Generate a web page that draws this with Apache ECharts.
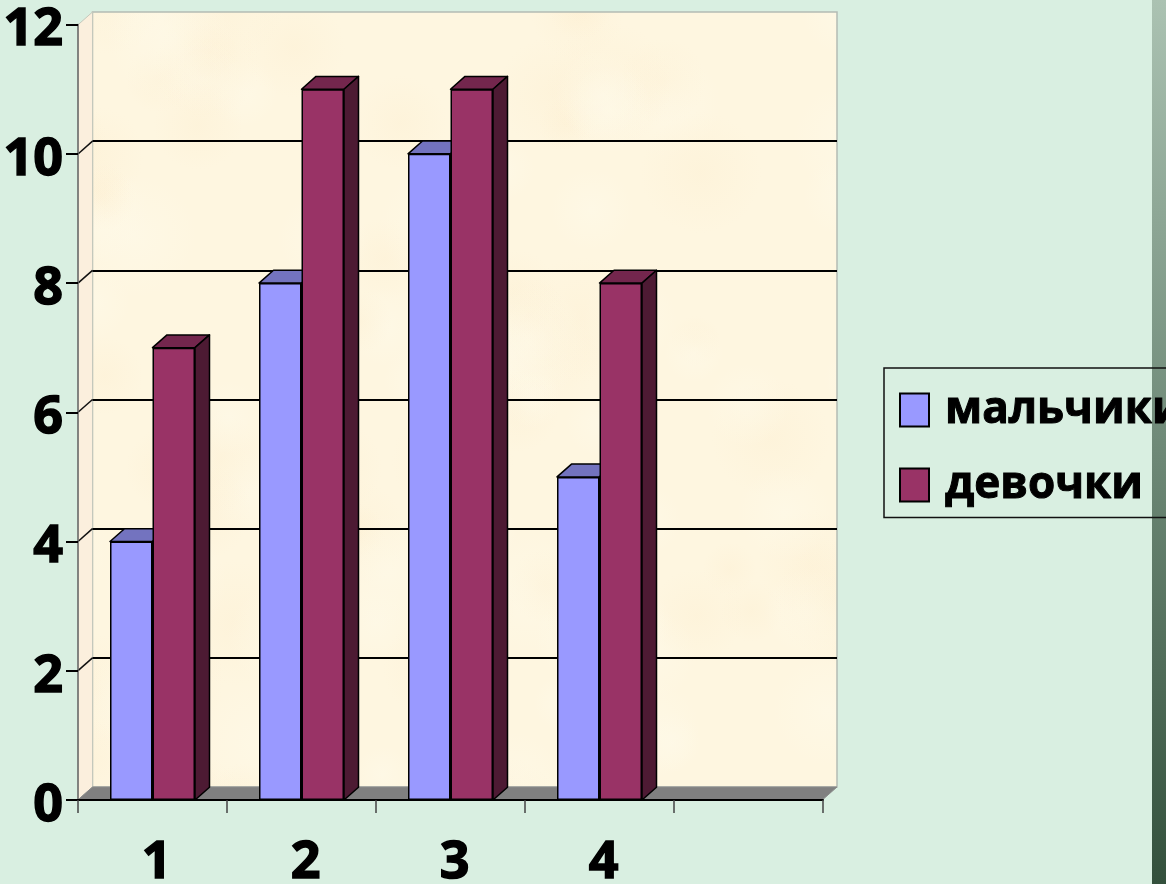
<!DOCTYPE html>
<html>
<head>
<meta charset="utf-8">
<style>html,body{margin:0;padding:0;background:#d9efe1;overflow:hidden}#c{width:1166px;height:884px}</style>
<script src="https://cdn.jsdelivr.net/npm/echarts@6/dist/echarts.min.js"></script>
</head>
<body>
<div id="c"></div>
<script>
var categories = ['1', '2', '3', '4', ''];
var boys = [4, 8, 10, 5];
var girls = [7, 11, 11, 8];
var boysName = 'мальчики';
var girlsName = 'девочки';
var yTicks = [2, 4, 6, 8, 10];

var DX = 14.5, DY = 12.8, BAR_W = 42.5;
var FONT = '"Open Sans","Noto Sans",sans-serif';

function parchment() {
  var cv = document.createElement('canvas');
  cv.width = 1166; cv.height = 884;
  var g = cv.getContext('2d');
  g.fillStyle = '#fef6e0';
  g.fillRect(0, 0, cv.width, cv.height);
  for (var i = 0; i < 170; i++) {
    var x = (Math.sin(i * 12.9898) * 43758.5453 % 1 + 1) % 1 * cv.width;
    var y = (Math.sin(i * 78.233) * 12543.123 % 1 + 1) % 1 * cv.height;
    var r = 25 + (i * 7 % 40);
    var grd = g.createRadialGradient(x, y, 0, x, y, r);
    var warm = i % 2 === 0;
    grd.addColorStop(0, warm ? 'rgba(252,236,204,0.28)' : 'rgba(255,250,234,0.5)');
    grd.addColorStop(1, warm ? 'rgba(252,236,204,0)' : 'rgba(255,250,234,0)');
    g.fillStyle = grd;
    g.fillRect(x - r, y - r, r * 2, r * 2);
  }
  return cv;
}
var wallTexture = { image: parchment(), repeat: 'repeat' };

function wallsItem(params, api) {
  var c = params.coordSys;
  var L = c.x, T = c.y, R = c.x + c.width, B = c.y + c.height;
  var kids = [
    { type: 'rect', shape: { x: L, y: T, width: c.width, height: c.height },
      style: { fill: wallTexture, stroke: '#b4bcb4', lineWidth: 1.5 } },
    { type: 'polygon', shape: { points: [[L - DX, T + DY], [L, T], [L, B], [L - DX, B + DY]] },
      style: { fill: '#fbefdd', stroke: '#c4c8bc', lineWidth: 1 } },
    { type: 'polygon', shape: { points: [[L - DX, B + DY], [L, B], [R, B], [R - DX, B + DY]] },
      style: { fill: '#808080', stroke: '#8a8a8a', lineWidth: 1 } }
  ];
  yTicks.forEach(function (v) {
    var y = api.coord([0, v])[1];
    kids.push({ type: 'line', shape: { x1: L - DX, y1: y + DY, x2: L, y2: y },
      style: { stroke: '#111', lineWidth: 1.5 } });
  });
  return { type: 'group', children: kids };
}

function depthItem(side, topFill, sideFill) {
  return function (params, api) {
    var pt = api.coord([api.value(0), api.value(1)]);
    var base = api.coord([api.value(0), 0]);
    var x0 = pt[0] + (side < 0 ? -BAR_W : 0), x1 = x0 + BAR_W, y = pt[1];
    var line = { stroke: '#000', lineWidth: 1.5, lineJoin: 'round' };
    return { type: 'group', children: [
      { type: 'polygon', shape: { points: [[x0, y], [x0 + DX, y - DY], [x1 + DX, y - DY], [x1, y]] },
        style: Object.assign({ fill: topFill }, line) },
      { type: 'polygon', shape: { points: [[x1, y], [x1 + DX, y - DY], [x1 + DX, base[1] - DY], [x1, base[1]]] },
        style: Object.assign({ fill: sideFill }, line) }
    ] };
  };
}
function pairs(a) { return a.map(function (v, i) { return [i, v]; }); }

var chart = echarts.init(document.getElementById('c'), null, { renderer: 'canvas' });
chart.setOption({
  animation: false,
  backgroundColor: '#d9efe1',
  graphic: [{
    type: 'rect', z: -10, silent: true,
    shape: { x: 1152, y: 0, width: 14, height: 884 },
    style: { fill: { type: 'linear', x: 0, y: 0, x2: 0, y2: 1,
      colorStops: [{ offset: 0, color: '#abc2b2' }, { offset: 0.5, color: '#6f8a78' }, { offset: 1, color: '#33503c' }] } }
  }],
  grid: [
    { left: 78, top: 24.6, width: 745, height: 775.4, outerBoundsMode: 'none' },
    { left: 92.5, top: 12, width: 744.5, height: 775, outerBoundsMode: 'none' }
  ],
  xAxis: [
    { type: 'category', gridIndex: 0, data: categories,
      axisLine: { show: true, lineStyle: { color: '#000', width: 2 } },
      axisTick: { show: true, length: 13, lineStyle: { color: '#444', width: 1.5 } },
      axisLabel: { show: true, color: '#000', fontFamily: FONT, fontWeight: 'bold', fontSize: 52, margin: 37, padding: [0, 0, 0, 8], interval: 0, textBorderColor: '#000', textBorderWidth: 1.5 },
      z: 5 },
    { type: 'category', gridIndex: 1, data: categories, show: false }
  ],
  yAxis: [
    { type: 'value', gridIndex: 0, min: 0, max: 12, interval: 2,
      axisLine: { show: true, lineStyle: { color: '#666', width: 1.5 } },
      axisTick: { show: true, length: 12, lineStyle: { color: '#000', width: 2 } },
      axisLabel: { color: '#000', fontFamily: FONT, fontWeight: 'bold', fontSize: 52, margin: 15, verticalAlign: 'top', lineHeight: 12, showMinLabel: true, showMaxLabel: true, hideOverlap: false, textBorderColor: '#000', textBorderWidth: 1.5 },
      splitLine: { show: false }, z: 5 },
    { type: 'value', gridIndex: 1, min: 0, max: 12, interval: 2,
      axisLine: { show: false }, axisTick: { show: false }, axisLabel: { show: false },
      splitLine: { show: true, showMinLine: false, showMaxLine: false, lineStyle: { color: '#000', width: 2 } }, z: 0 }
  ],
  legend: {
    orient: 'vertical', left: 884, top: 368,
    data: [boysName, girlsName],
    icon: 'rect', itemWidth: 29, itemHeight: 33, itemGap: 30,
    padding: [19.5, 10, 10, 15],
    borderColor: '#111', borderWidth: 1.5,
    textStyle: { color: '#000', fontFamily: FONT, fontWeight: 'bold', fontSize: 44, padding: [0, 0, 0, 11], textBorderColor: '#000', textBorderWidth: 1 },
    selectedMode: false, z: 10
  },
  series: [
    { type: 'custom', xAxisIndex: 1, yAxisIndex: 1, data: [[0, 0]], z: -1, silent: true, renderItem: wallsItem },
    { type: 'custom', xAxisIndex: 0, yAxisIndex: 0, data: pairs(boys), z: 2, silent: true, clip: false,
      renderItem: depthItem(-1, '#7373bf', '#4d4d80') },
    { type: 'custom', xAxisIndex: 0, yAxisIndex: 0, data: pairs(girls), z: 2, silent: true, clip: false,
      renderItem: depthItem(1, '#73264d', '#4d1a33') },
    { name: boysName, type: 'bar', xAxisIndex: 0, yAxisIndex: 0, data: boys, barWidth: BAR_W, barGap: 0, z: 3,
      itemStyle: { color: '#9999ff', borderColor: '#000', borderWidth: 1.5 } },
    { name: girlsName, type: 'bar', xAxisIndex: 0, yAxisIndex: 0, data: girls, barWidth: BAR_W, barGap: 0, z: 3,
      itemStyle: { color: '#993366', borderColor: '#000', borderWidth: 1.5 } }
  ]
});
</script>
</body>
</html>
